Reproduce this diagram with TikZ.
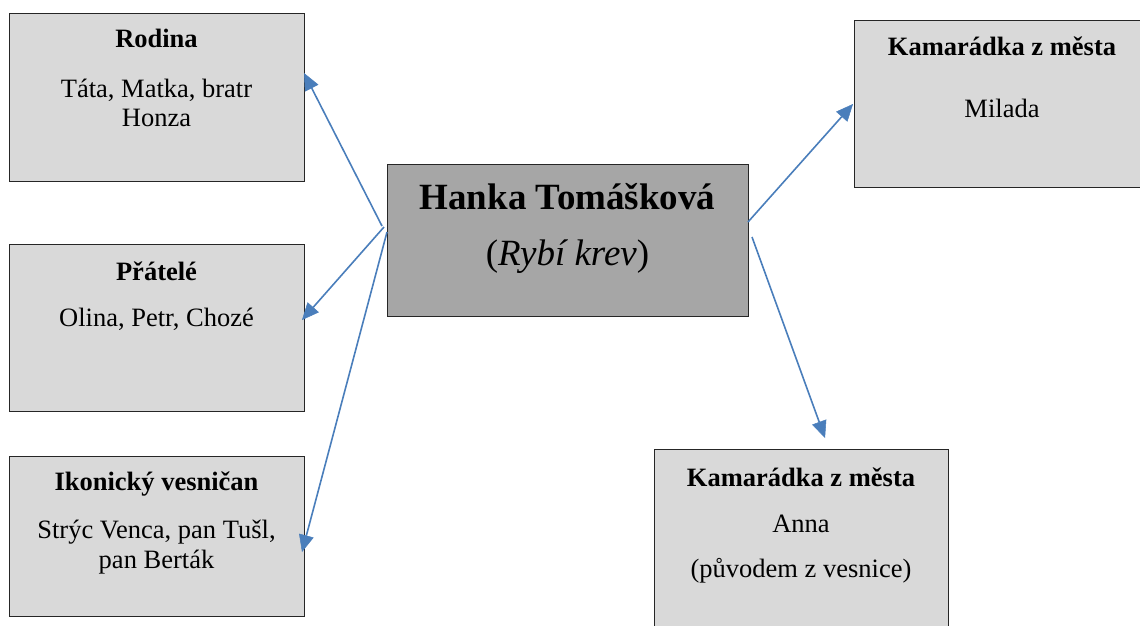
\documentclass[tikz,border=0pt]{standalone}
\usepackage{fontspec}
\setmainfont{Liberation Serif}
\usetikzlibrary{arrows.meta,calc}

\definecolor{boxfill}{HTML}{D9D9D9}
\definecolor{hubfill}{HTML}{A6A6A6}
\definecolor{linkblue}{HTML}{4A7EBB}
\definecolor{edge}{HTML}{262626}

\tikzset{
  box/.style={draw=edge, line width=1pt, fill=boxfill, anchor=north west, inner sep=0pt},
  hubbox/.style={box, fill=hubfill},
  txt/.style={anchor=base, inner sep=0pt, font=\fontsize{26.5}{30}\selectfont},
  head/.style={txt, font=\fontsize{26.5}{30}\selectfont\bfseries},
  hubtxt/.style={anchor=base, inner sep=0pt, font=\fontsize{37}{42}\selectfont},
  link/.style={draw=linkblue, line width=1.6pt,
    -{Triangle[length=17pt,width=15pt,fill=linkblue,line width=0.5pt]}}
}

\begin{document}
\begin{tikzpicture}[x=1pt,y=-1pt]
\clip (0,0) rectangle (1140,625);

% boxes
\node[box, minimum width=295pt, minimum height=168pt] (rodina) at (9,13) {};
\node[box, minimum width=295pt, minimum height=167pt] (pratele) at (9,244) {};
\node[box, minimum width=295pt, minimum height=160pt] (ikon) at (9,456) {};
\node[hubbox, minimum width=361pt, minimum height=152pt] (hub) at (387,164) {};
\node[box, minimum width=300pt, minimum height=167pt] (kamA) at (854,20) {};
\node[box, minimum width=294pt, minimum height=200pt] (kamB) at (654,449) {};

% box texts
\node[head] (rodina-h) at (156.5,47) {Rodina};
\node[txt] (rodina-1) at (156.5,97) {Táta, Matka, bratr};
\node[txt] (rodina-2) at (156.5,126) {Honza};

\node[head] (pratele-h) at (156.5,280) {Přátelé};
\node[txt] (pratele-1) at (156.5,326) {Olina, Petr, Chozé};

\node[head] (ikon-h) at (156.5,490) {Ikonický vesničan};
\node[txt] (ikon-1) at (156.5,538) {Strýc Venca, pan Tušl,};
\node[txt] (ikon-2) at (156.5,568) {pan Berták};

\node[hubtxt, font=\fontsize{37}{42}\selectfont\bfseries] (hub-h) at (567.5,209) {Hanka Tomášková};
\node[hubtxt] (hub-1) at (567.5,265) {(\textit{Rybí krev})};

\node[head] (kamA-h) at (1002,55) {Kamarádka z města};
\node[txt] (kamA-1) at (1002,117) {Milada};

\node[head] (kamB-h) at (801,486) {Kamarádka z města};
\node[txt] (kamB-1) at (801,532) {Anna};
\node[txt] (kamB-2) at (801,577) {(původem z vesnice)};

% connector end points on the box borders
\path (hub.north west) ++(-5,62) coordinate (h1)
      (hub.north west) ++(-3,63) coordinate (h2)
      (hub.north west) ++(0,68) coordinate (h3)
      (hub.north east) ++(-1,58) coordinate (h4)
      (hub.north east) ++(3,73) coordinate (h5);
\path (rodina.north east) ++(-1,60) coordinate (r-in)
      (pratele.north east) ++(-3,76) coordinate (p-in)
      (ikon.north east) ++(-3,96) coordinate (i-in)
      (kamA.north west) ++(-1,84) coordinate (a-in)
      (kamB.north west) ++(171,-11) coordinate (b-in);

% connectors
\draw[link] (h1) -- (r-in);
\draw[link] (h2) -- (p-in);
\draw[link] (h3) -- (i-in);
\draw[link] (h4) -- (a-in);
\draw[link] (h5) -- (b-in);
\end{tikzpicture}
\end{document}
